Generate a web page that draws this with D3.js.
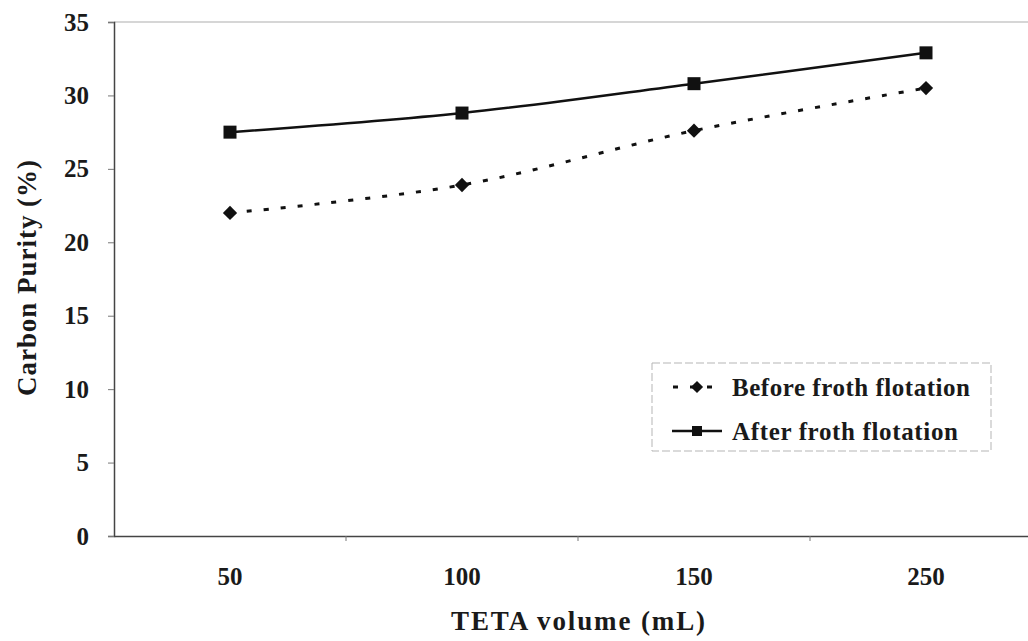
<!DOCTYPE html>
<html><head><meta charset="utf-8">
<script src="https://cdn.jsdelivr.net/npm/d3@7"></script>
<style>body{margin:0;background:#fff}svg{display:block}</style>
</head><body>
<svg id="c" width="1028" height="641"></svg>
<script>
const categories = ["50", "100", "150", "250"];
const beforeValues = [22.0, 23.9, 27.6, 30.5];
const afterValues = [27.5, 28.8, 30.8, 32.9];
const yTicks = [0, 5, 10, 15, 20, 25, 30, 35];
const seriesNames = ["Before froth flotation", "After froth flotation"];

(function () {
const svg = d3.select("#c");
const pL = 114, pR = 1042, pT = 22, pB = 536;
const font = "'Liberation Serif', 'Times New Roman', serif";

const x = d3.scaleBand().domain(categories).range([pL, pR]);
const y = d3.scaleLinear().domain([0, 35]).range([pB, pT]);

// top border
svg.append("line").attr("x1", pL).attr("x2", 1028).attr("y1", pT).attr("y2", pT)
  .attr("stroke", "#c8c8c8").attr("stroke-width", 1.5);

// y axis
const ya = svg.append("g").attr("transform", `translate(${pL},0)`)
  .call(d3.axisLeft(y).tickValues(yTicks).tickSize(6).tickPadding(19).tickFormat(d3.format("d")));
ya.select(".domain").attr("stroke", "#444").attr("stroke-width", 1.5);
ya.selectAll(".tick line").attr("stroke", "#777");
ya.selectAll("text").attr("font-family", font).attr("font-weight", "bold").attr("font-size", 25).attr("fill", "#1a1a1a");

// x axis
const xa = svg.append("g").attr("transform", `translate(0,${pB})`)
  .call(d3.axisBottom(x).tickSize(0).tickPadding(31));
xa.select(".domain").attr("stroke", "#444").attr("stroke-width", 1.5);
xa.selectAll("text").attr("font-family", font).attr("font-weight", "bold").attr("font-size", 25).attr("fill", "#1a1a1a");
xa.selectAll(".bt").data(x.domain().slice(1)).enter().append("line")
  .attr("x1", d => x(d)).attr("x2", d => x(d)).attr("y1", 0).attr("y2", 5)
  .attr("stroke", "#777");

const cx = d => x(d) + x.bandwidth() / 2;
const line = d3.line().x(d => cx(d[0])).y(d => y(d[1])).curve(d3.curveCatmullRom.alpha(0));

const beforeData = categories.map((c, i) => [c, beforeValues[i]]);
const afterData = categories.map((c, i) => [c, afterValues[i]]);

svg.append("path").datum(beforeData).attr("d", line).attr("fill", "none")
  .attr("stroke", "#111").attr("stroke-width", 3).attr("stroke-dasharray", "5,12");
svg.append("path").datum(afterData).attr("d", line).attr("fill", "none")
  .attr("stroke", "#111").attr("stroke-width", 2.5);

const diamond = d3.symbol().type(d3.symbolDiamond2).size(130);
svg.selectAll(".dm").data(beforeData).enter().append("path")
  .attr("transform", d => `translate(${cx(d[0])},${y(d[1])})`)
  .attr("d", diamond).attr("fill", "#111");
svg.selectAll(".sq").data(afterData).enter().append("rect")
  .attr("x", d => cx(d[0]) - 6.5).attr("y", d => y(d[1]) - 6.5)
  .attr("width", 13).attr("height", 13).attr("fill", "#111");

// axis titles
svg.append("text").attr("x", 578).attr("y", 630).attr("text-anchor", "middle")
  .attr("font-family", font).attr("font-weight", "bold").attr("font-size", 27).attr("fill", "#1a1a1a")
  .attr("textLength", 254).attr("lengthAdjust", "spacing")
  .text("TETA volume (mL)");
svg.append("text").attr("transform", "translate(36,278) rotate(-90)").attr("text-anchor", "middle")
  .attr("font-family", font).attr("font-weight", "bold").attr("font-size", 27).attr("fill", "#1a1a1a")
  .attr("textLength", 236).attr("lengthAdjust", "spacing")
  .text("Carbon Purity (%)");

// legend
const lg = svg.append("g");
lg.append("rect").attr("x", 652).attr("y", 363).attr("width", 339).attr("height", 88)
  .attr("fill", "none").attr("stroke", "#b5b5b5").attr("stroke-width", 1).attr("stroke-dasharray", "8,3");
const items = [
  {name: seriesNames[0], dashed: true, w: 3, marker: "d", yy: 387, base: 396},
  {name: seriesNames[1], dashed: false, w: 2.5, marker: "s", yy: 431, base: 440}
];
items.forEach(it => {
  lg.append("line").attr("x1", 672).attr("x2", 722).attr("y1", it.yy).attr("y2", it.yy)
    .attr("stroke", "#111").attr("stroke-width", it.w)
    .attr("stroke-dasharray", it.dashed ? "5,12" : null).attr("stroke-dashoffset", it.dashed ? -1 : 0);
  if (it.marker === "d") {
    lg.append("path").attr("transform", `translate(697,${it.yy})`).attr("d", d3.symbol().type(d3.symbolDiamond2).size(95)).attr("fill", "#111");
  } else {
    lg.append("rect").attr("x", 692).attr("y", it.yy - 5).attr("width", 10).attr("height", 10).attr("fill", "#111");
  }
  lg.append("text").attr("x", 732).attr("y", it.base).attr("font-family", font)
    .attr("font-weight", "bold").attr("font-size", 25).attr("fill", "#1a1a1a")
    .attr("textLength", it.marker === "d" ? 238 : 226).attr("lengthAdjust", "spacing")
    .text(it.name);
});
})();
</script>
</body></html>
